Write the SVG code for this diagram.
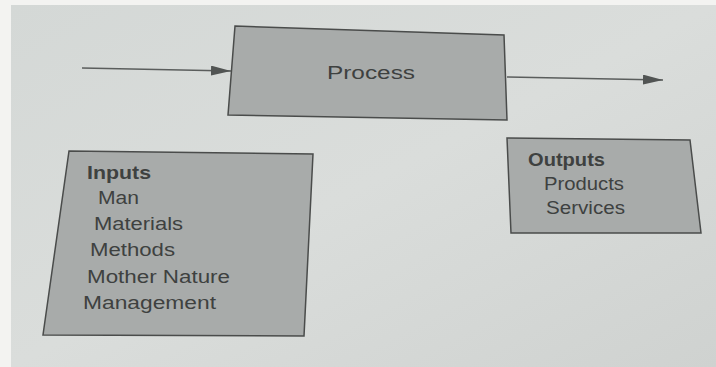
<svg xmlns="http://www.w3.org/2000/svg" width="716" height="367" viewBox="0 0 716 367">
<style>
.box{fill:#a8abaa;stroke:#4a4c4b;stroke-width:1.5}
.t{font-family:"Liberation Sans",Arial,sans-serif;fill:#3e4140;font-size:17.5px}
.b{font-weight:bold}
.c{stroke:#5a5d5c;stroke-width:1.5;fill:none}
</style>
<defs>
<linearGradient id="bg" x1="0" y1="0" x2="1" y2="1">
<stop offset="0" stop-color="#d4d8d6"/>
<stop offset="0.5" stop-color="#dadddb"/>
<stop offset="1" stop-color="#cfd2d0"/>
</linearGradient>
<marker id="ah" viewBox="0 0 20 10" refX="20" refY="5" markerWidth="20" markerHeight="10" markerUnits="userSpaceOnUse" orient="auto">
<path d="M0,0 L20,5 L0,10 z" fill="#515453"/>
</marker>
</defs>
<rect x="0" y="0" width="716" height="367" fill="#f3f3f1"/>
<rect x="11" y="5" width="705" height="362" fill="url(#bg)"/>
<g id="connectors">
<line class="c" x1="82" y1="68" x2="231" y2="71" marker-end="url(#ah)"/>
<line class="c" x1="507" y1="77" x2="663" y2="80" marker-end="url(#ah)"/>
</g>
<g id="process">
<polygon class="box" points="235,26 504,35 507,120 228,115"/>
<text class="t" x="327" y="79" font-size="21" textLength="88" lengthAdjust="spacingAndGlyphs">Process</text>
</g>
<g id="inputs">
<polygon class="box" points="69,151 313,154 304,336 43,335"/>
<text class="t b" x="87" y="179" textLength="64" lengthAdjust="spacingAndGlyphs">Inputs</text>
<text class="t" x="98" y="204" textLength="41" lengthAdjust="spacingAndGlyphs">Man</text>
<text class="t" x="94" y="230" textLength="89" lengthAdjust="spacingAndGlyphs">Materials</text>
<text class="t" x="90" y="256" textLength="85" lengthAdjust="spacingAndGlyphs">Methods</text>
<text class="t" x="87" y="283" textLength="143" lengthAdjust="spacingAndGlyphs">Mother Nature</text>
<text class="t" x="83" y="309" textLength="133" lengthAdjust="spacingAndGlyphs">Management</text>
</g>
<g id="outputs">
<polygon class="box" points="507,138 690,140 701,233 511,233"/>
<text class="t b" x="528" y="166" textLength="77" lengthAdjust="spacingAndGlyphs">Outputs</text>
<text class="t" x="544" y="190" textLength="80" lengthAdjust="spacingAndGlyphs">Products</text>
<text class="t" x="546" y="214" textLength="79" lengthAdjust="spacingAndGlyphs">Services</text>
</g>
</svg>
